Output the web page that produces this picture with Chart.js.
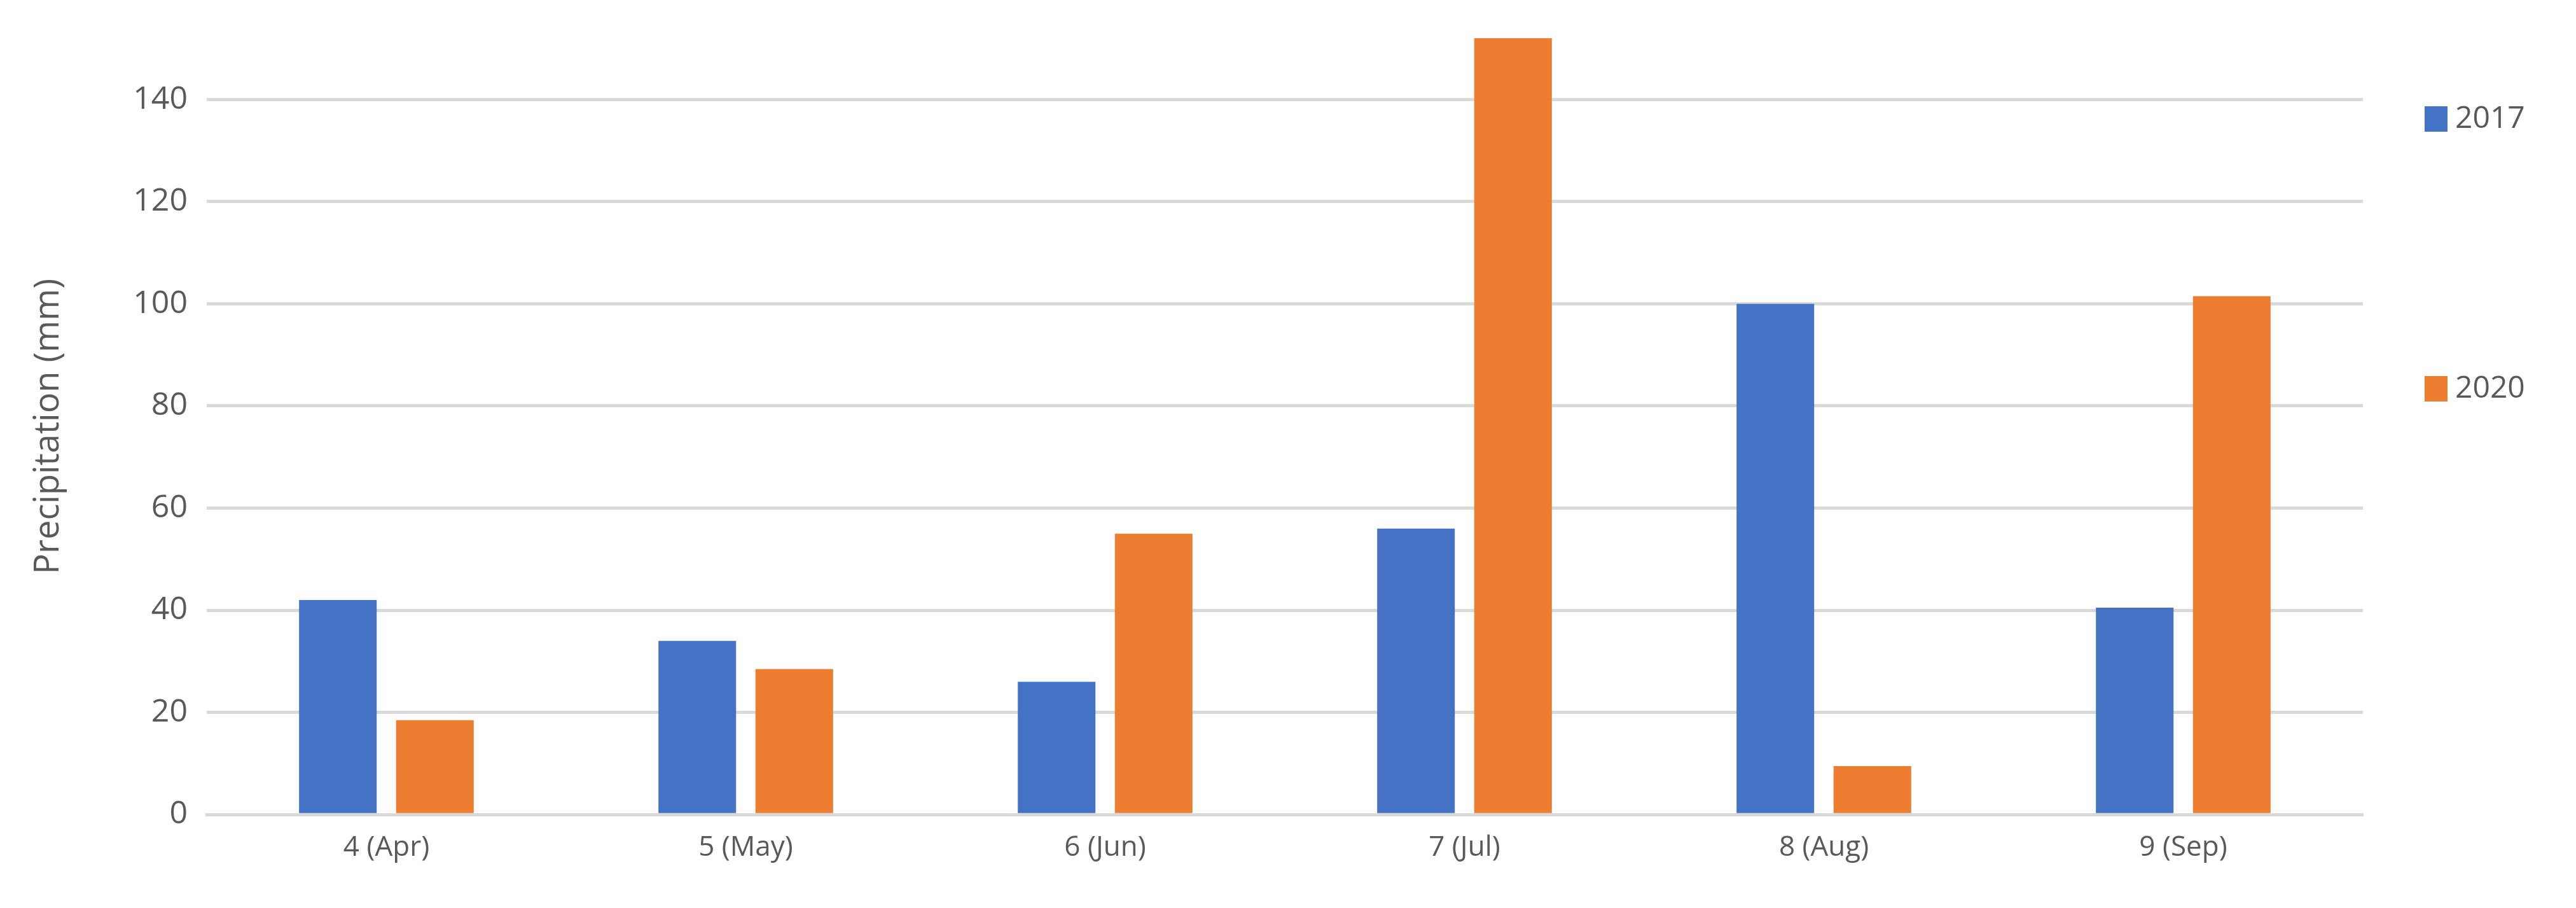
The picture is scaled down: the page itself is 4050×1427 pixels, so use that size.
<!DOCTYPE html>
<html><head><meta charset="utf-8">
<script src="https://cdn.jsdelivr.net/npm/chart.js@4"></script>
<style>html,body{margin:0;padding:0;background:#fff}#w{width:4050px;height:1427px}</style>
</head><body><div id="w"><canvas id="c"></canvas></div>
<script>
const categories = ["4 (Apr)","5 (May)","6 (Jun)","7 (Jul)","8 (Aug)","9 (Sep)"];
const series2017 = [42, 34, 26, 56, 100, 40.5];
const series2020 = [18.5, 28.5, 55, 152, 9.5, 101.5];
const seriesNames = ["2017","2020"];
const yTicks = [0,20,40,60,80,100,120,140];

const legendPlugin = {
  id:'sideLegend',
  afterDraw(chart){
    const ctx = chart.ctx;
    const ys = [187, 611];
    ctx.save();
    ctx.font = '48px "Open Sans", "Liberation Sans", sans-serif';
    ctx.textBaseline = 'middle';
    chart.data.datasets.forEach((ds,i)=>{
      ctx.fillStyle = ds.backgroundColor;
      ctx.fillRect(3812, ys[i]-20, 36, 40);
      ctx.fillStyle = '#595959';
      ctx.fillText(ds.label, 3860, ys[i]);
    });
    ctx.restore();
  }
};

new Chart(document.getElementById('c'), {
  type:'bar',
  data:{labels:categories, datasets:[
    {label:seriesNames[0], data:series2017, backgroundColor:'#4472C4'},
    {label:seriesNames[1], data:series2020, backgroundColor:'#ED7D31'}
  ]},
  options:{
    responsive:true, maintainAspectRatio:false, animation:false,
    layout:{padding:{top:5, right:335, left:40, bottom:50}},
    plugins:{legend:{display:false}, tooltip:{enabled:false}},
    datasets:{bar:{categoryPercentage:0.54, barPercentage:0.8}},
    scales:{
      x:{grid:{display:false}, border:{color:'#d9d9d9', width:5},
         ticks:{color:'#595959', font:{size:44, family:'"Open Sans", "Liberation Sans", sans-serif'}, padding:18}},
      y:{min:0, max:152,
         afterBuildTicks(ax){ ax.ticks = yTicks.map(v=>({value:v})); },
         afterFit(ax){ ax.width = 285; },
         grid:{color:'#d9d9d9', lineWidth:5, drawTicks:false},
         border:{display:false},
         ticks:{color:'#595959', font:{size:50, family:'"Open Sans", "Liberation Sans", sans-serif'}, padding:30},
         title:{display:true, text:'Precipitation (mm)', color:'#595959', font:{size:54, family:'"Open Sans", "Liberation Sans", sans-serif'}, padding:{bottom:30}}
      }
    }
  },
  plugins:[legendPlugin]
});
</script></body></html>
